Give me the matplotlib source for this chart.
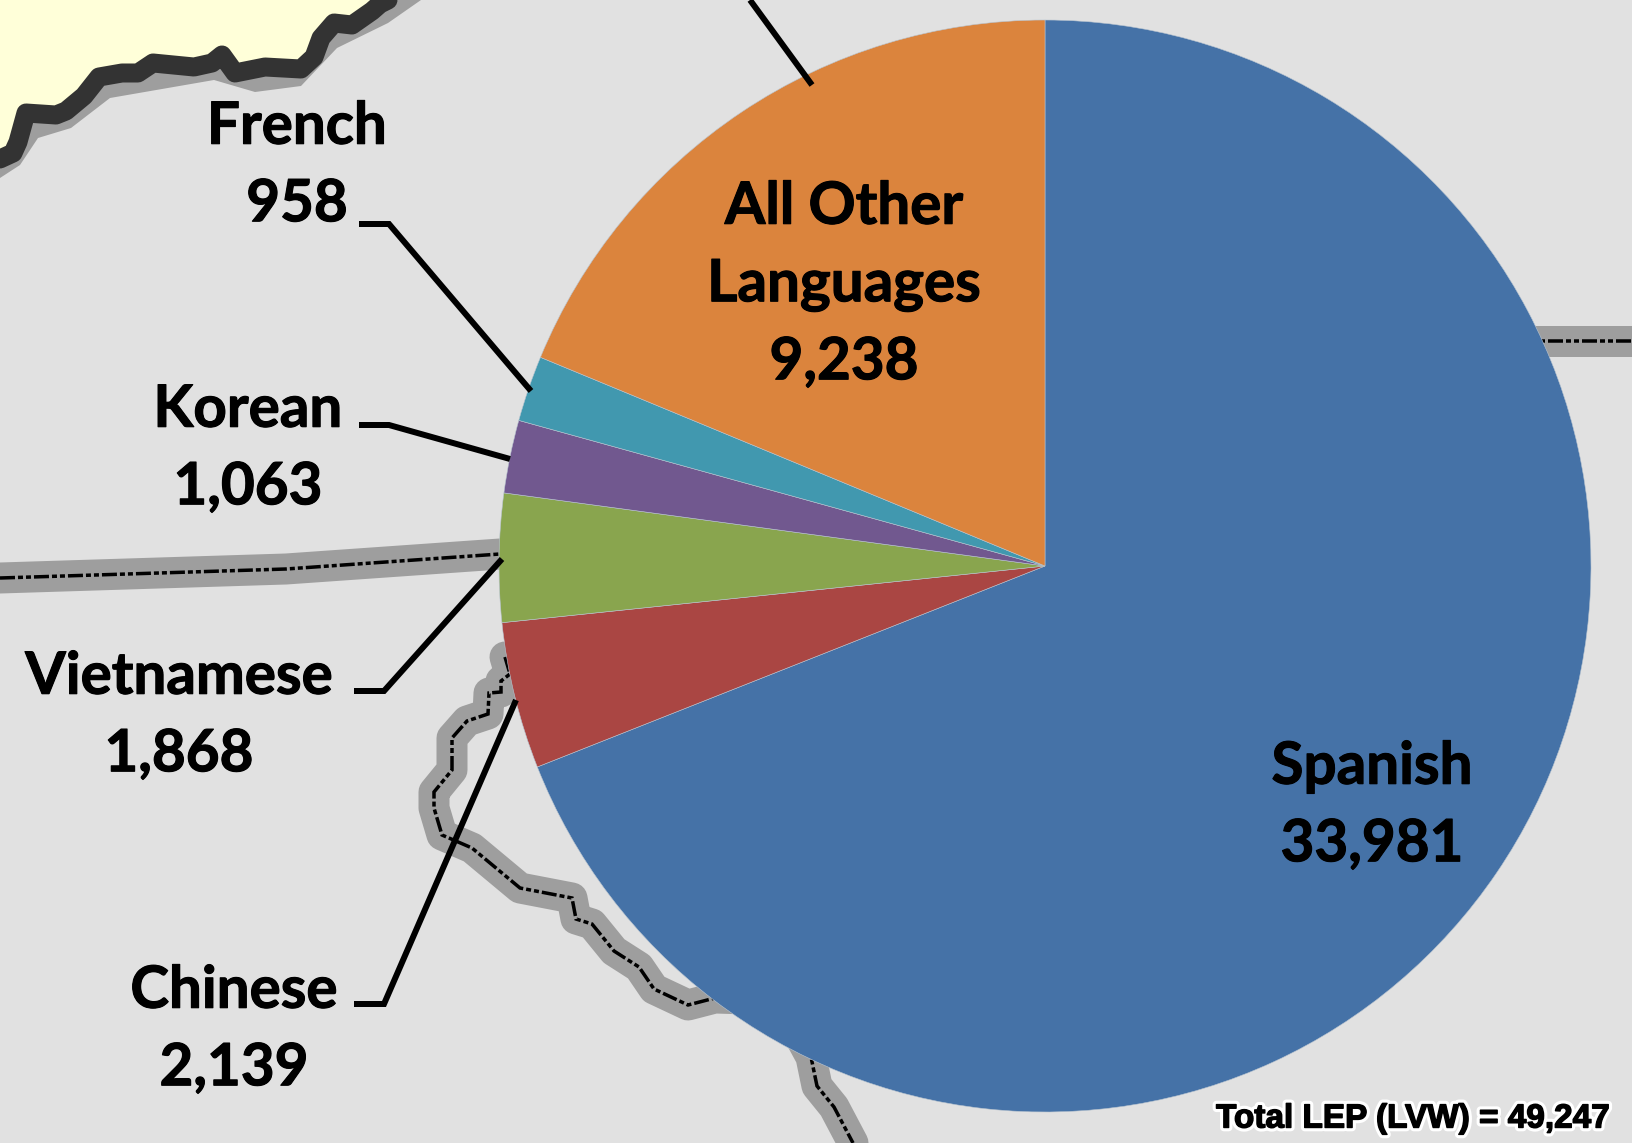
import matplotlib
matplotlib.use("Agg")
import matplotlib.pyplot as plt
import matplotlib.patheffects as pe
from matplotlib.patches import Polygon

# ---- chart data ----
languages = ["Spanish", "Chinese", "Vietnamese", "Korean", "French", "All Other\nLanguages"]
lep_counts = [33981, 2139, 1868, 1063, 958, 9238]
total_label = "Total LEP (LVW) = 49,247"
slice_colors = ["#4572A7", "#AA4643", "#89A54E", "#71588F", "#4198AF", "#DB843D"]

W, H = 1633, 1143
PX = 72 / 100  # points per pixel at dpi 100
plt.rcParams["lines.scale_dashes"] = False
plt.rcParams["font.family"] = ["Lato", "DejaVu Sans"]

# ---- map backdrop geometry (pixel space) ----
state_line_x = [0, 13, 18, 26, 56, 66, 84, 99, 122, 138, 153, 194, 212, 222, 235, 265, 301, 314, 321, 334, 352, 372, 380, 388]
state_line_y = [159, 153, 142, 113, 115, 111, 96, 77, 73, 73, 63, 67, 63, 55, 73, 67, 69, 57, 38, 23, 25, 11, 4, 0]
state_halo_x = [0, 20, 38, 71, 110, 214, 255, 301, 337, 388, 421]
state_halo_y = [178, 165, 138, 128, 98, 80, 92, 86, 48, 23, 0]
border_left = [(0, 578), (286, 569), (500, 554)]
border_right = [(1480, 341), (1633, 341)]
river = [(505, 657), (510, 674), (501, 681), (501, 692), (489, 693), (488, 714),
         (467, 721), (452, 738), (452, 770), (434, 792), (434, 808), (442, 835),
         (472, 848), (520, 888), (572, 898), (576, 919), (592, 924), (614, 951),
         (639, 967), (654, 989), (688, 1005), (715, 998), (780, 1000), (811, 1057), (817, 1086),
         (834, 1107), (853, 1143)]
DASH = (0, (15 * PX, 3 * PX, 5 * PX, 3 * PX, 5 * PX, 3 * PX))

fig = plt.figure(figsize=(W / 100, H / 100), dpi=100, facecolor="#E1E1E1")

bg = fig.add_axes([0, 0, 1, 1], zorder=1)
bg.set_xlim(0, W)
bg.set_ylim(H, 0)
bg.axis("off")

bg.add_patch(Polygon([(0, 0)] + list(zip(state_halo_x, state_halo_y)), closed=True,
                     facecolor="#9E9E9E", edgecolor="none", zorder=1))
bg.add_patch(Polygon([(0, 0)] + list(zip(state_line_x, state_line_y)), closed=True,
                     facecolor="#FFFFD9", edgecolor="none", zorder=2))
bg.plot(state_line_x, state_line_y, color="#333333", lw=19 * PX,
        solid_joinstyle="round", solid_capstyle="round", zorder=3)

for path in (border_left, border_right, river):
    xs, ys = zip(*path)
    bg.plot(xs, ys, color="#9E9E9E", lw=31 * PX, solid_joinstyle="round",
            solid_capstyle="round", zorder=2.5)
    bg.plot(xs, ys, color="black", lw=3.5 * PX, linestyle=DASH,
            dash_joinstyle="miter", dash_capstyle="butt", zorder=2.6)

# ---- pie ----
cx, cy, r = 1045, 566, 546
pie_ax = fig.add_axes([(cx - r) / W, 1 - (cy + r) / H, 2 * r / W, 2 * r / H], zorder=2)
pie_ax.pie(lep_counts, colors=slice_colors, startangle=90, counterclock=False, radius=1,
           wedgeprops={"linewidth": 0.4, "edgecolor": "#B8C4D0"})
pie_ax.set_xlim(-1, 1)
pie_ax.set_ylim(-1, 1)
pie_ax.axis("off")

# ---- overlay: leaders and labels ----
ov = fig.add_axes([0, 0, 1, 1], zorder=3)
ov.set_xlim(0, W)
ov.set_ylim(H, 0)
ov.axis("off")
ov.patch.set_alpha(0)

leaders = [
    [(750, 0), (812, 85)],
    [(359, 224), (389, 224), (531, 391)],
    [(359, 425), (389, 425), (510, 459)],
    [(354, 691), (384, 691), (502, 559)],
    [(354, 1004), (384, 1004), (516, 700)],
]
for path in leaders:
    xs, ys = zip(*path)
    ov.plot(xs, ys, color="black", lw=6 * PX, solid_joinstyle="miter",
            solid_capstyle="butt")

label_pos = [(1372, 806), (234, 1030), (179, 716), (248, 449), (297, 166), (844, 285)]
FS = 42
for name, val, (x, y) in zip(languages, lep_counts, label_pos):
    ov.text(x, y, f"{name}\n{val:,}", ha="center", va="center", fontsize=FS,
            fontweight="bold", color="black", linespacing=1.57,
            path_effects=[pe.Stroke(linewidth=0.8, foreground="black"), pe.Normal()])

ov.text(1413, 1119, total_label, ha="center", va="center", fontsize=24,
        family=["Liberation Sans", "DejaVu Sans"], fontweight="bold", color="black",
        path_effects=[pe.Stroke(linewidth=5.5, foreground="white"),
                      pe.Stroke(linewidth=1, foreground="black"), pe.Normal()])

fig.savefig("out.png", dpi=100, facecolor=fig.get_facecolor())
